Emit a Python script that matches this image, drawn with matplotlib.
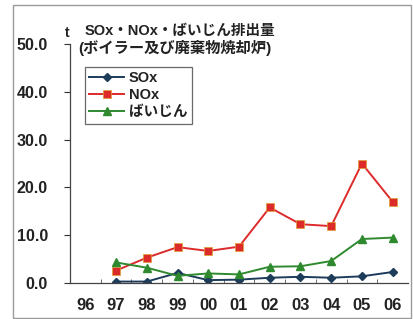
import matplotlib
matplotlib.use("Agg")
import matplotlib.pyplot as plt
from matplotlib.patches import Rectangle
import numpy as np

years = ["96", "97", "98", "99", "00", "01", "02", "03", "04", "05", "06"]
sox = [None, 0.3, 0.3, 2.1, 0.6, 0.7, 1.1, 1.3, 1.1, 1.4, 2.3]
nox = [None, 2.6, 5.3, 7.5, 6.7, 7.6, 15.8, 12.3, 11.9, 25.0, 17.0]
dust = [None, 4.3, 3.2, 1.5, 2.0, 1.8, 3.4, 3.5, 4.6, 9.2, 9.5]
yticks = [0, 10, 20, 30, 40, 50]
series_names = ["SOx", "NOx", "ばいじん"]
title_lines = ["SOx・NOx・ばいじん排出量", "(ボイラー及び廃棄物焼却炉)"]

plt.rcParams['font.family'] = ['Liberation Sans', 'Noto Sans CJK JP', 'DejaVu Sans']

fig = plt.figure(figsize=(4.14, 3.19), dpi=100)
fig.patch.set_facecolor('white')
W, H = 414, 319

# outer frame
fig.patches.append(Rectangle((13 / W, 1.5 / H), (411 - 13) / W, (314 - 1.5) / H,
                             transform=fig.transFigure, fill=False,
                             edgecolor='#9a9a9a', linewidth=1.0))

ax = fig.add_axes([70 / W, 1 - 283 / H, (408 - 70) / W, (283 - 44) / H])
x = np.arange(len(years))

def arr(v):
    return np.array([np.nan if a is None else a for a in v], dtype=float)

ax.plot(x, arr(sox), color='#1d3c5a', marker='D', markersize=4, linewidth=1.4, label=series_names[0])
ax.plot(x, arr(nox), color='#dd2a2a', marker='s', markersize=6, linewidth=1.4,
        markeredgecolor='#e0a030', markeredgewidth=0.5, label=series_names[1])
ax.plot(x, arr(dust), color='#2f8a2f', marker='^', markersize=6, linewidth=1.4, label=series_names[2])

ax.set_ylim(0, 50)
ax.set_xlim(-0.5, 10.5)
ax.set_yticks(yticks)
ax.set_yticklabels([f"{v:.1f}" for v in yticks], fontsize=11.5, fontweight='bold', color='#222222')
ax.tick_params(axis='y', length=4, width=0.8, pad=12, colors='#333333', labelcolor='#222222')
ax.set_xticks(x)
ax.set_xticklabels(years, fontsize=12, fontweight='bold', color='#222222')
ax.set_xticks(x[:-1] + 0.5, minor=True)
ax.tick_params(axis='x', which='major', length=0, pad=11)
ax.tick_params(axis='x', which='minor', length=3, width=0.6, direction='in', colors='#555555')

for s in ['top', 'right']:
    ax.spines[s].set_visible(False)
for s in ['left', 'bottom']:
    ax.spines[s].set_color('#444444')
    ax.spines[s].set_linewidth(0.9)

fig.text(65 / W, 1 - 33 / H, "t", fontsize=10, fontweight='bold', va='center', ha='left', color='#222222')
fig.text(85 / W, 1 - 31 / H, title_lines[0], fontsize=10.5, fontweight='bold', va='center', ha='left', color='#222222')
fig.text(78 / W, 1 - 48 / H, title_lines[1], fontsize=11, fontweight='bold', va='center', ha='left', color='#222222')

leg = ax.legend(loc='upper left', bbox_to_anchor=((85 - 70) / (408 - 70), (283 - 67) / (283 - 44)),
                frameon=True, fancybox=False, fontsize=10.5, handlelength=2.4,
                borderpad=0.3, labelspacing=0.2, handletextpad=0.3, borderaxespad=0)
leg.get_frame().set_edgecolor('#444444')
leg.get_frame().set_linewidth(0.9)
for t in leg.get_texts():
    t.set_fontweight('bold')
    t.set_color('#222222')

fig.savefig("out.png", dpi=100)
